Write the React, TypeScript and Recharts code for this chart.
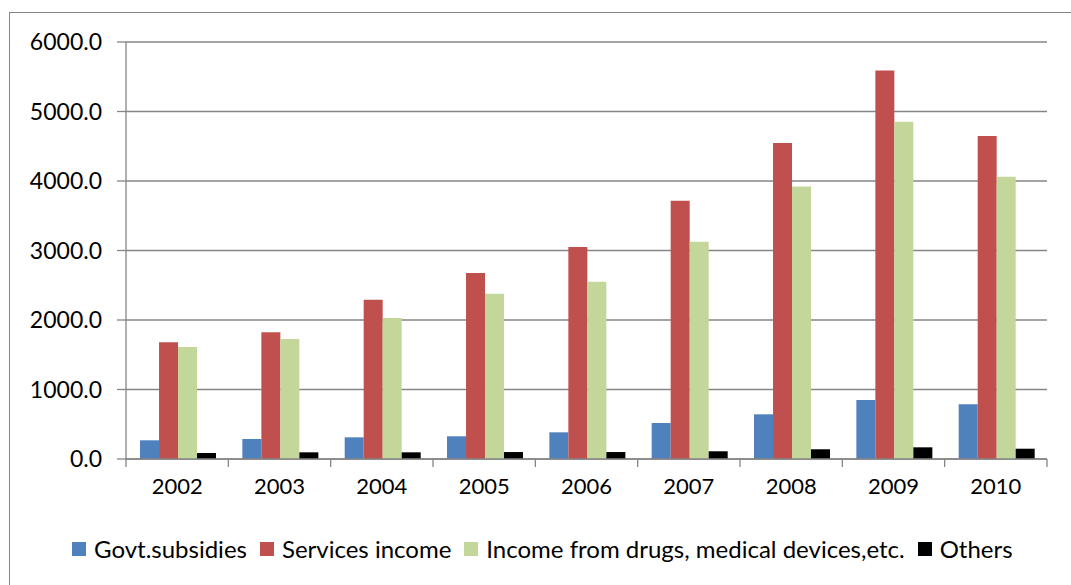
import { Bar, BarChart, CartesianGrid, XAxis, YAxis } from "recharts";

const years = ["2002", "2003", "2004", "2005", "2006", "2007", "2008", "2009", "2010"];
const govtSubsidies = [269, 288, 312, 327, 384, 518, 643, 850, 788];
const servicesIncome = [1680, 1824, 2290, 2678, 3052, 3715, 4546, 5591, 4646];
const drugsIncome = [1613, 1728, 2030, 2376, 2549, 3125, 3921, 4852, 4060];
const others = [86, 96, 96, 100, 100, 111, 140, 168, 148];
const yTicks = [0, 1000, 2000, 3000, 4000, 5000, 6000];

const series = [
  { key: "govt", name: "Govt.subsidies", color: "#4F81BD" },
  { key: "services", name: "Services income", color: "#C0504D" },
  { key: "drugs", name: "Income from drugs, medical devices,etc.", color: "#C4D79B" },
  { key: "others", name: "Others", color: "#000000" },
];

const data = years.map((y, i) => ({
  year: y,
  govt: govtSubsidies[i],
  services: servicesIncome[i],
  drugs: drugsIncome[i],
  others: others[i],
}));

const FONT = "Lato, 'Open Sans', sans-serif";
const AXIS = "#868686";

// excel style: tick marks sit between categories, label in the middle
function XTick(props: any) {
  const { x, y, payload, index } = props;
  const half = payload.offset || 0;
  const last = index === years.length - 1;
  return (
    <g>
      <line x1={x - half} x2={x - half} y1={y - 8} y2={y} stroke={AXIS} strokeWidth={1.3} />
      {last && <line x1={x + half} x2={x + half} y1={y - 8} y2={y} stroke={AXIS} strokeWidth={1.3} />}
      <text x={x} y={y + 27} textAnchor="middle" fontSize={22} fontFamily={FONT} fill="#000">
        {payload.value}
      </text>
    </g>
  );
}

export default function App() {
  return (
    <div
      style={{
        position: "absolute",
        left: 0,
        top: 0,
        width: 1071,
        height: 585,
        overflow: "hidden",
        background: "#fff",
      }}
    >
      <div
        style={{
          position: "absolute",
          left: 9,
          top: 12,
          width: 1200,
          height: 700,
          border: `1px solid ${AXIS}`,
        }}
      />
      <div style={{ position: "absolute", left: 0, top: 0 }}>
        <BarChart
          width={1071}
          height={585}
          data={data}
          margin={{ top: 42, right: 24, left: 10, bottom: 86 }}
          barCategoryGap="13.7%"
          barGap={0}
        >
          <CartesianGrid vertical={false} stroke={AXIS} strokeWidth={1.3} />
          <XAxis
            dataKey="year"
            height={40}
            tickLine={false}
            axisLine={{ stroke: AXIS, strokeWidth: 1.3 }}
            tick={<XTick />}
            interval={0}
          />
          <YAxis
            width={116}
            domain={[0, 6000]}
            ticks={yTicks}
            tickFormatter={(v: number) => v.toFixed(1)}
            tickSize={9}
            tickMargin={15}
            tickLine={{ stroke: AXIS, strokeWidth: 1.3 }}
            axisLine={{ stroke: AXIS, strokeWidth: 1.3 }}
            tick={{ fontSize: 23, fontFamily: FONT, fill: "#000" }}
          />
          {series.map((s) => (
            <Bar key={s.key} dataKey={s.key} name={s.name} fill={s.color} isAnimationActive={false} />
          ))}
        </BarChart>
      </div>
      <div
        style={{
          position: "absolute",
          left: 72,
          top: 534,
          display: "flex",
          alignItems: "center",
          fontFamily: FONT,
          fontSize: 24,
          color: "#000",
          whiteSpace: "nowrap",
        }}
      >
        {series.map((s) => (
          <span key={s.key} style={{ display: "flex", alignItems: "center", marginRight: 13 }}>
            <span style={{ width: 14, height: 14, background: s.color, marginRight: 8 }} />
            {s.name}
          </span>
        ))}
      </div>
    </div>
  );
}
